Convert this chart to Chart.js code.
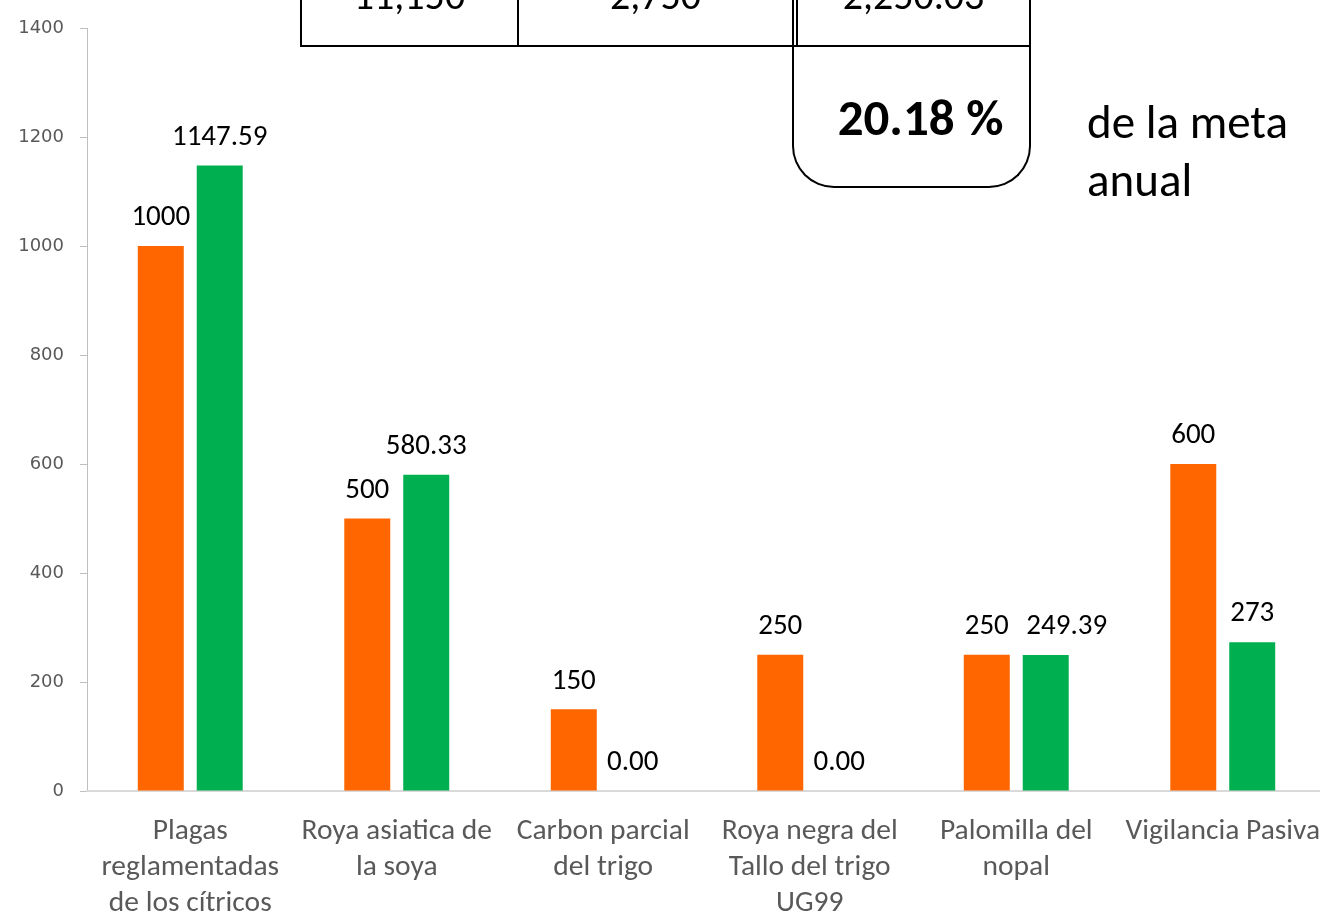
<!DOCTYPE html>
<html>
<head>
<meta charset="utf-8">
<script src="https://cdn.jsdelivr.net/npm/chart.js@4"></script>
<style>
  html, body { margin: 0; padding: 0; background: #fff; overflow: hidden; }
  #wrap { position: relative; width: 1320px; height: 912px; overflow: hidden; }
  #myChart { position: absolute; left: 0; top: 0; }
  .box { position: absolute; border: 2px solid #000; box-sizing: border-box; }
  .cell { position: absolute; font-family: Carlito, Lato, sans-serif; font-size: 40px; line-height: 40px; color: #000; text-align: center; }
  .vline { position: absolute; width: 2px; background: #000; }
</style>
</head>
<body>
<div id="wrap">
  <canvas id="myChart" width="1326" height="912"></canvas>

  <!-- tabla de arriba (cortada) -->
  <div class="box" style="left:300px; top:-70px; width:731px; height:117px;"></div>
  <div class="vline" style="left:517px; top:0; height:46px;"></div>
  <div class="vline" style="left:792px; top:0; height:46px;"></div>
  <div class="vline" style="left:796px; top:0; height:46px;"></div>
  <div class="cell" style="left:302px; width:215px; top:-24px;">11,150</div>
  <div class="cell" style="left:519px; width:273px; top:-24px;">2,750</div>
  <div class="cell" style="left:798px; width:231px; top:-24px;">2,250.03</div>

  <div class="box" style="left:792px; top:45px; width:239px; height:143px; border-top:none; border-radius:0 0 42px 42px;"></div>
  <div class="cell" style="left:810px; width:221px; top:92px; font-size:51px; line-height:52px; font-weight:bold;">20.18 %</div>
  <div class="cell" style="left:1087px; top:93px; font-size:47px; line-height:58px; text-align:left; white-space:nowrap;">de la meta<br>anual</div>
</div>

<script>
// datos
var categorias = [
    ['Plagas', 'reglamentadas', 'de los cítricos'],
    ['Roya asiatica de', 'la soya'],
    ['Carbon parcial', 'del trigo'],
    ['Roya negra del', 'Tallo del trigo', 'UG99'],
    ['Palomilla del', 'nopal'],
    'Vigilancia Pasiva'
];
var metaValores = [1000, 500, 150, 250, 250, 600];
var avanceValores = [1147.59, 580.33, 0, 0, 249.39, 273];
var metaEtiquetas = ['1000', '500', '150', '250', '250', '600'];
var avanceEtiquetas = ['1147.59', '580.33', '0.00', '0.00', '249.39', '273'];
var yTicks = [0, 200, 400, 600, 800, 1000, 1200, 1400];

var fuente = 'Carlito, Lato, sans-serif';

// etiquetas encima de las barras (249.39 va movida a la derecha como en el original)
var etiquetasPlugin = {
    id: 'etiquetas',
    afterDatasetsDraw: function(chart) {
        var ctx = chart.ctx;
        var textos = [metaEtiquetas, avanceEtiquetas];
        var mover = { '1-4': 21 };
        ctx.save();
        ctx.font = '29px ' + fuente;
        ctx.fillStyle = '#000';
        ctx.textAlign = 'center';
        ctx.textBaseline = 'middle';
        chart.data.datasets.forEach(function(ds, i) {
            chart.getDatasetMeta(i).data.forEach(function(bar, j) {
                var dx = mover[i + '-' + j] || 0;
                ctx.fillText(textos[i][j], bar.x + dx, bar.y - 28);
            });
        });
        ctx.restore();
    }
};

new Chart(document.getElementById('myChart').getContext('2d'), {
    type: 'bar',
    data: {
        labels: categorias,
        datasets: [{
            label: 'Meta',
            data: metaValores,
            backgroundColor: '#FF6600',
            categoryPercentage: 0.571,
            barPercentage: 0.78
        }, {
            label: 'Avance',
            data: avanceValores,
            backgroundColor: '#00B050',
            categoryPercentage: 0.571,
            barPercentage: 0.78
        }]
    },
    options: {
        responsive: false,
        animation: false,
        layout: { padding: { top: 28, right: 0, left: 0, bottom: 0 } },
        plugins: {
            legend: { display: false },
            title: { display: false },
            tooltip: { enabled: false }
        },
        scales: {
            y: {
                min: 0,
                max: 1400,
                afterBuildTicks: function(scale) {
                    scale.ticks = yTicks.map(function(v) { return { value: v }; });
                },
                afterFit: function(scale) { scale.width = 87; },
                grid: { drawOnChartArea: false, tickLength: 7, color: '#bfbfbf' },
                border: { color: '#bfbfbf', width: 1 },
                ticks: {
                    padding: 16,
                    color: '#595959',
                    font: { family: 'DejaVu Sans', size: 18 },
                    callback: function(v) { return String(v); }
                }
            },
            x: {
                afterFit: function(scale) {
                    scale.height = 121;
                    scale.paddingLeft = 0;
                    scale.paddingRight = 0;
                },
                grid: { display: false, drawTicks: false },
                border: { color: '#d9d9d9', width: 2 },
                ticks: {
                    padding: 23,
                    maxRotation: 0,
                    autoSkip: false,
                    color: '#595959',
                    font: { family: fuente, size: 29.5, lineHeight: 36 / 29.5 }
                }
            }
        }
    },
    plugins: [etiquetasPlugin]
});
</script>
</body>
</html>
